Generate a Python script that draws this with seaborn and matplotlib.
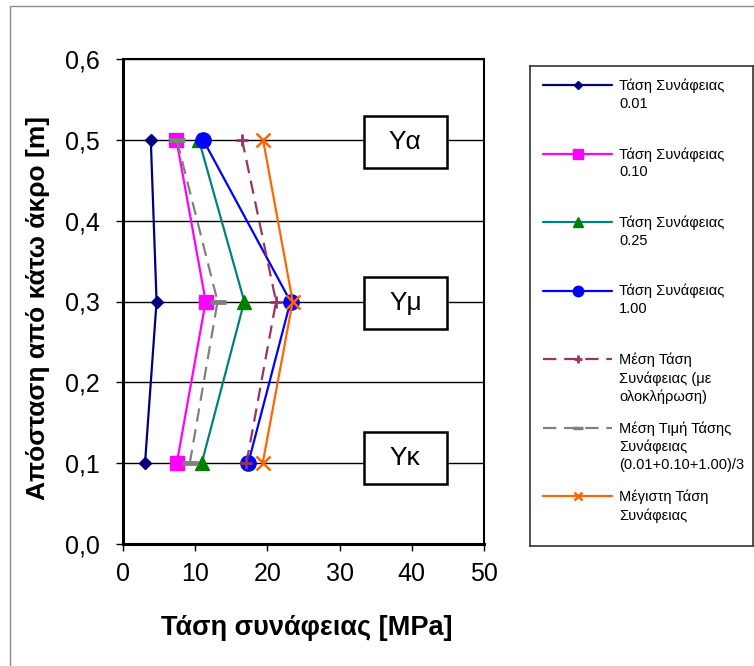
import matplotlib
matplotlib.use("Agg")
import matplotlib.pyplot as plt
from matplotlib.patches import Rectangle
import numpy as np
import pandas as pd
import seaborn as sns

# Heights of the measuring points above the lower edge [m]
heights = [0.1, 0.3, 0.5]

# Bond stress [MPa] at each height
stress_001 = [3.05, 4.65, 3.85]
stress_010 = [7.45, 11.45, 7.4]
stress_025 = [10.9, 16.8, 10.5]
stress_100 = [17.35, 23.2, 11.1]
mean_integrated = [17.1, 21.2, 16.5]
mean_value = [9.25, 13.1, 7.45]
max_stress = [19.35, 23.5, 19.4]

series_labels = [
    "Τάση Συνάφειας\n0.01",
    "Τάση Συνάφειας\n0.10",
    "Τάση Συνάφειας\n0.25",
    "Τάση Συνάφειας\n1.00",
    "Μέση Τάση\nΣυνάφειας (με\nολοκλήρωση)",
    "Μέση Τιμή Τάσης\nΣυνάφειας\n(0.01+0.10+1.00)/3",
    "Μέγιστη Τάση\nΣυνάφειας",
]

x_ticks = [0, 10, 20, 30, 40, 50]
y_ticks = [0.0, 0.1, 0.2, 0.3, 0.4, 0.5, 0.6]
y_tick_labels = ["0,0", "0,1", "0,2", "0,3", "0,4", "0,5", "0,6"]

zone_labels = ["Yα", "Yμ", "Yκ"]
zone_heights = [0.497, 0.298, 0.107]
zone_x = 39.1

sns.set_theme(style="white")
plt.rcParams["font.family"] = ["Liberation Sans", "DejaVu Sans"]

W, H = 754, 666
fig = plt.figure(figsize=(W / 100, H / 100), dpi=100)
fig.patch.set_facecolor("white")


def px_rect(left, top, right, bottom):
    return [left / W, 1 - bottom / H, (right - left) / W, (bottom - top) / H]


# thin outer frame of the chart area
fig.patches.append(Rectangle((10 / W, -0.1), 2, 1.1 - 6 / H, transform=fig.transFigure,
                             fill=False, ec="#8c8c8c", lw=1.0, zorder=0))

ax = fig.add_axes(px_rect(123, 59, 484, 544))

styles = [
    dict(color="#000080", marker="D", markersize=6.5, markerfacecolor="#000080",
         markeredgecolor="#000080", markeredgewidth=1, linestyle="-"),
    dict(color="#FF00FF", marker="s", markersize=10.5, markerfacecolor="#FF00FF",
         markeredgecolor="#FF00FF", markeredgewidth=1, linestyle="-"),
    dict(color="#008080", marker="^", markersize=9.5, markerfacecolor="#008000",
         markeredgecolor="#008000", markeredgewidth=1, linestyle="-"),
    dict(color="#0000FF", marker="o", markersize=11, markerfacecolor="#0000FF",
         markeredgecolor="#0000FF", markeredgewidth=1, linestyle="-"),
    dict(color="#993366", marker="+", markersize=9, markerfacecolor="#993366",
         markeredgecolor="#993366", markeredgewidth=2, linestyle=(0, (6, 3.5))),
    dict(color="#808080", marker="_", markersize=11, markerfacecolor="#808080",
         markeredgecolor="#808080", markeredgewidth=3.5, linestyle=(0, (6, 3.5))),
    dict(color="#FF6600", marker="x", markersize=9.5, markerfacecolor="#FF6600",
         markeredgecolor="#FF6600", markeredgewidth=1.8, linestyle="-"),
]
all_series = [stress_001, stress_010, stress_025, stress_100,
              mean_integrated, mean_value, max_stress]

for values, label, st in zip(all_series, series_labels, styles):
    df = pd.DataFrame({"stress": values, "height": heights})
    sns.lineplot(data=df, x="stress", y="height", orient="y", errorbar=None,
                 ax=ax, legend=False, linewidth=1.6, zorder=3, **st)

ax.set_xlim(0, 50)
ax.set_ylim(0, 0.6)
ax.set_xticks(x_ticks)
ax.set_yticks(y_ticks)
ax.set_yticklabels(y_tick_labels)
ax.yaxis.grid(True, color="black", lw=1.0)
ax.xaxis.grid(False)
ax.set_axisbelow(True)
ax.tick_params(axis="both", which="major", direction="out", length=5, width=1,
               color="black", labelsize=18, labelcolor="black")
ax.tick_params(axis="x", pad=8, bottom=True)
ax.tick_params(axis="y", pad=12, left=True)
for side in ["left", "bottom"]:
    ax.spines[side].set_color("black")
    ax.spines[side].set_linewidth(2.2)
for side in ["top", "right"]:
    ax.spines[side].set_color("black")
    ax.spines[side].set_linewidth(1.5)

ax.set_xlabel("Τάση συνάφειας [MPa]", fontsize=19.5, fontweight="bold", color="black")
ax.set_ylabel("Απόσταση από κάτω άκρο [m]", fontsize=19, fontweight="bold", color="black")
ax.xaxis.set_label_coords((307 - 123) / 361, (544 - 628) / 485)
ax.yaxis.set_label_coords((38 - 123) / 361, (544 - 308) / 485)
ax.xaxis.label.set_va("center")
ax.yaxis.label.set_va("center")

# zone marker boxes
box_w, box_h = 83 / 361 * 50, 52 / 485 * 0.6
for lab, yc in zip(zone_labels, zone_heights):
    ax.add_patch(Rectangle((zone_x - box_w / 2, yc - box_h / 2), box_w, box_h,
                           fc="white", ec="black", lw=1.8, zorder=5))
    ax.text(zone_x, yc, lab, ha="center", va="center", fontsize=19, color="black", zorder=6)

# legend panel
lax = fig.add_axes(px_rect(530, 66, 753, 546))
lax.set_xlim(0, 223)
lax.set_ylim(480, 0)
lax.set_xticks([])
lax.set_yticks([])
for sp in lax.spines.values():
    sp.set_color("#333333")
    sp.set_linewidth(1.2)

legend_marker_sizes = [4.5, 7, 6.5, 7.5, 6, 7, 6]
for i, (label, st) in enumerate(zip(series_labels, styles)):
    y0 = 19 + i * 68.5
    lax.plot([13, 82], [y0, y0], lw=1.6, color=st["color"], linestyle=st["linestyle"])
    lax.plot([47.5], [y0], marker=st["marker"], markersize=legend_marker_sizes[i],
             markerfacecolor=st["markerfacecolor"], markeredgecolor=st["markeredgecolor"],
             markeredgewidth=min(st["markeredgewidth"], 2.5), linestyle="none")
    lax.text(89, y0 - 6.5, label, ha="left", va="top", fontsize=10.5,
             color="black", linespacing=1.35)

fig.savefig("out.png", dpi=100)
